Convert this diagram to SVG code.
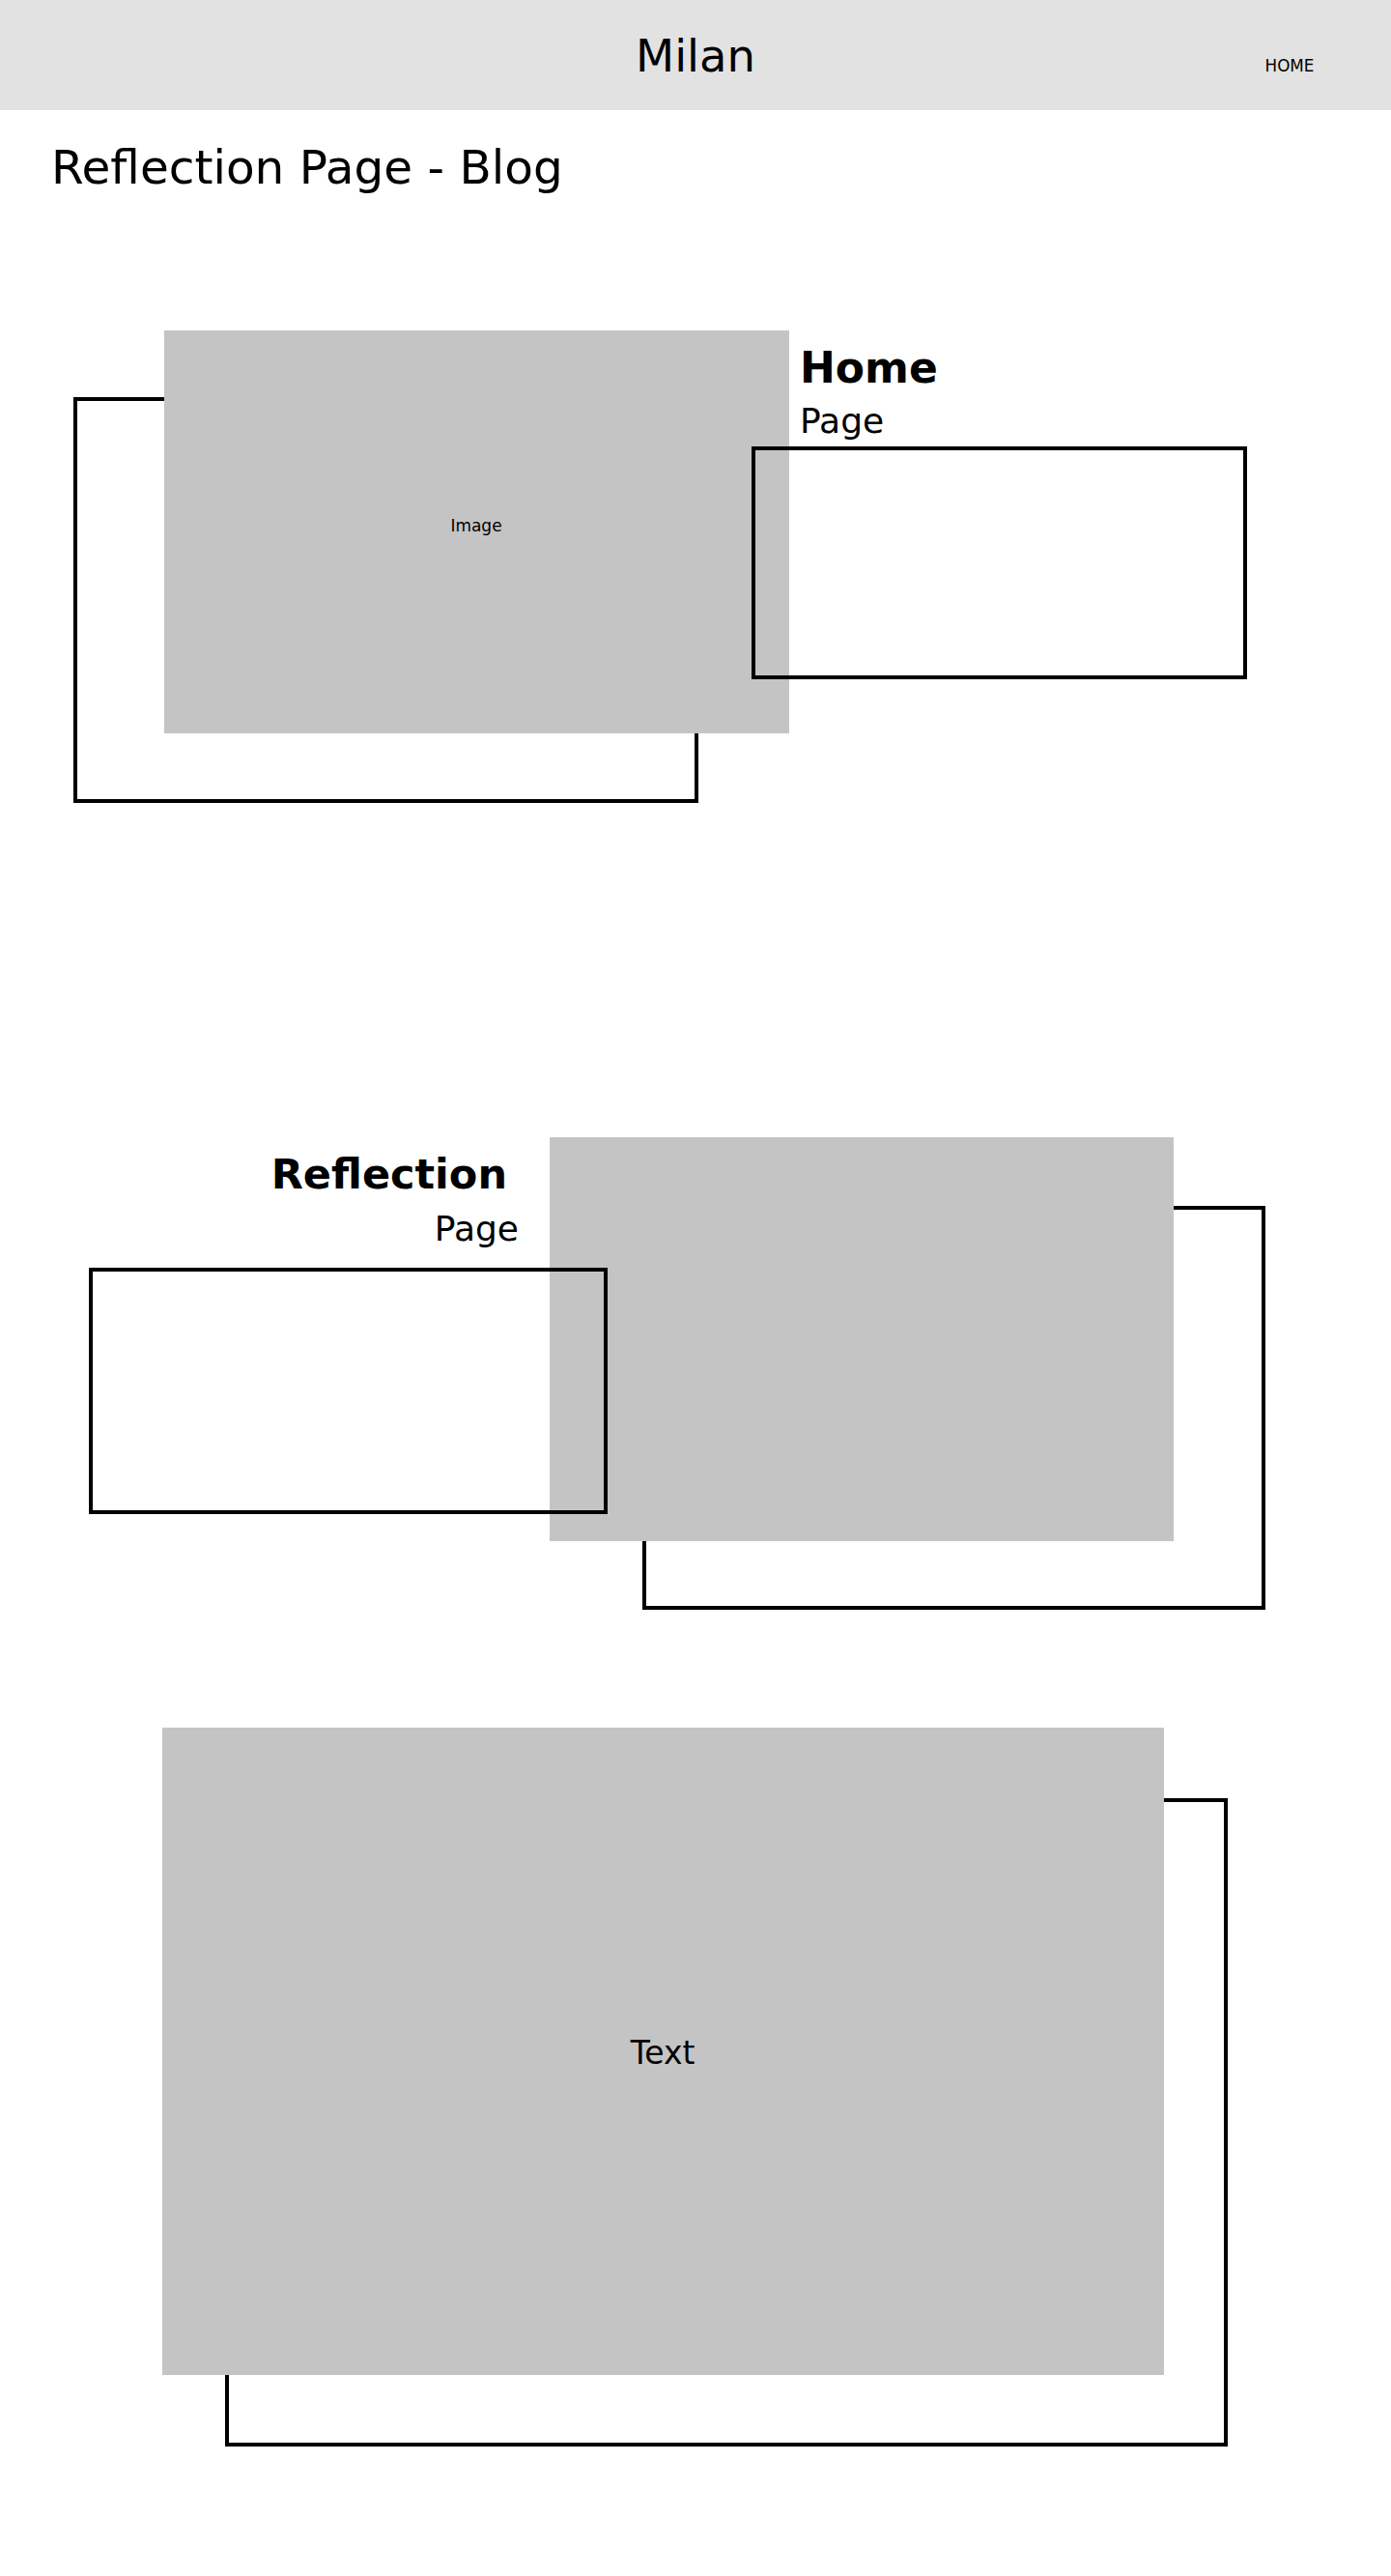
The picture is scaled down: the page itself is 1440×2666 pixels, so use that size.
<svg xmlns="http://www.w3.org/2000/svg" width="1440" height="2666" viewBox="0 0 1440 2666">
<style>
.t{font-family:"DejaVu Sans","Noto Sans",sans-serif;fill:#000}
.b{font-family:"DejaVu Sans","Noto Sans",sans-serif;font-weight:bold;fill:#000}
.ol{fill:none;stroke:#000;stroke-width:4}
.gr{fill:#c4c4c4}
</style>
<rect width="1440" height="2666" fill="#ffffff"/>
<g id="header">
<rect x="0" y="0" width="1440" height="114" fill="#e2e2e2"/>
<text class="t" x="720" y="74" font-size="46.5" text-anchor="middle">Milan</text>
<text class="t" x="1335" y="74" font-size="16.8" text-anchor="middle">HOME</text>
</g>
<g id="title">
<text class="t" x="53" y="190" font-size="48.5">Reflection Page - Blog</text>
</g>
<g id="section-home">
<rect class="ol" x="78" y="413" width="643" height="416"/>
<rect class="gr" x="170" y="342" width="647" height="417"/>
<text class="t" x="493" y="550" font-size="17" text-anchor="middle">Image</text>
<text class="b" x="828" y="396" font-size="44">Home</text>
<text class="t" x="828" y="448" font-size="36">Page</text>
<rect class="ol" x="780" y="464" width="509" height="237"/>
</g>
<g id="section-reflection">
<rect class="ol" x="667" y="1250" width="641" height="414"/>
<rect class="gr" x="569" y="1177" width="646" height="418"/>
<text class="b" x="525" y="1230" font-size="43" text-anchor="end">Reflection</text>
<text class="t" x="537" y="1284" font-size="36" text-anchor="end">Page</text>
<rect class="ol" x="94" y="1314" width="533" height="251"/>
</g>
<g id="section-text">
<rect class="ol" x="235" y="1863" width="1034" height="667"/>
<rect class="gr" x="168" y="1788" width="1037" height="670"/>
<text class="t" x="686" y="2136" font-size="33" text-anchor="middle">Text</text>
</g>
<g id="connectors"/>
</svg>
